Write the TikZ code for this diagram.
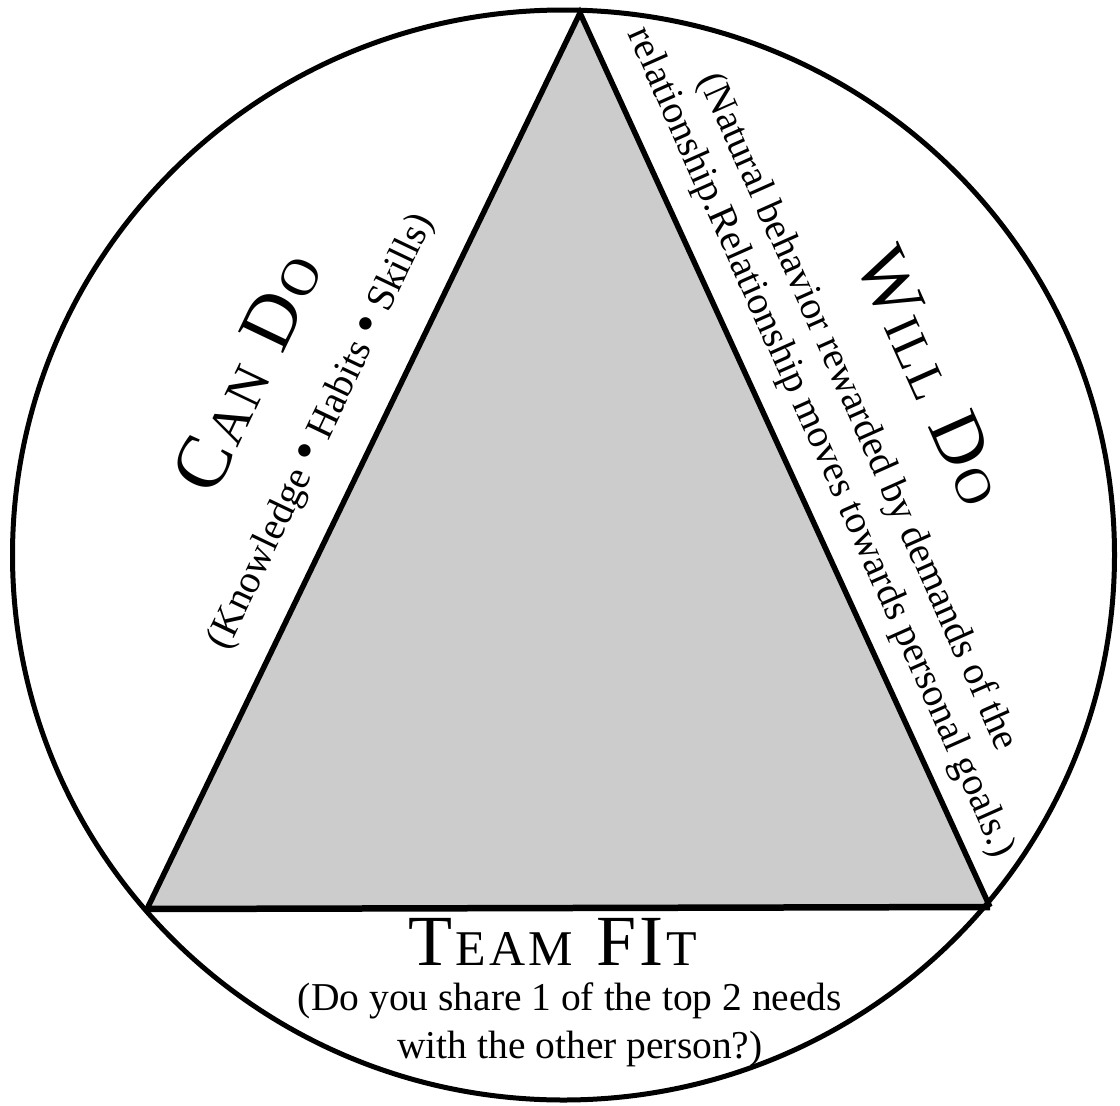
\documentclass[tikz,border=0pt]{standalone}
\usepackage{fontspec}
\newfontfamily\bodyfont{Liberation Serif}
\newfontfamily\titlefont{Liberation Serif}
\newcommand\bigdot{{\fontsize{52}{52}\selectfont\raisebox{-1pt}{•}}}
\newcommand\ls{\hspace{3pt}}
\newcommand\Bg[1]{\fontsize{#1}{#1}\selectfont}
\begin{document}
\begin{tikzpicture}[x=1pt,y=-1pt,
  body/.style={font=\bodyfont\fontsize{39.5}{46}\selectfont, inner sep=0pt},
  title/.style={font=\titlefont, inner sep=0pt},
  edge/.style={line width=5.5pt, line join=miter},
  baseedge/.style={line width=6.5pt},
  rim/.style={line width=5pt}]
\useasboundingbox (0,0) rectangle (1120,1106);
\fill[white] (0,0) rectangle (1120,1106);
% triangle vertices
\coordinate (apex) at (580,13);
\coordinate (bl) at (147,909);
\coordinate (br) at (990,907);
\fill[black!20] (apex) -- (br) -- (bl) -- cycle;
\draw[edge] (bl) -- (apex) -- (br);
\draw[baseedge] (bl) -- (br);
% outer circle
\draw[rim] (563.5,555) ellipse [x radius=551pt, y radius=545pt];
% CAN DO
\node[title, rotate=64.5] (cando) at (247,372)
  {\Bg{76}C\ls\Bg{53}A\ls N\hspace{24pt}\Bg{76}D\ls\Bg{53}O};
\node[body, rotate=64.5] (cansub) at (322,432) {(Knowledge \bigdot{} Habits \bigdot{} Skills)};
% WILL DO
\node[title, rotate=-66] (willdo) at (931,376)
  {\Bg{73}W\ls\Bg{51}I\ls L\ls L\hspace{24pt}\Bg{73}D\ls\Bg{51}O};
\node[body, rotate=-66] (willsubA) at (857,412) {(Natural behavior rewarded by demands of the};
\node[body, rotate=-66] (willsubB) at (820,443) {relationship.Relationship moves towards personal goals.)};
% TEAM FIT
\node[title, anchor=base] (teamfit) at (553,965)
  {\Bg{72}T\ls\Bg{50}E\ls A\ls M\hspace{24pt}\Bg{72}F\ls I\ls\Bg{50}T};
\node[body, anchor=base] (teamsubA) at (570,1010) {(Do you share 1 of the top 2 needs};
\node[body, anchor=base] (teamsubB) at (580,1058) {with the other person?)};
\end{tikzpicture}
\end{document}
